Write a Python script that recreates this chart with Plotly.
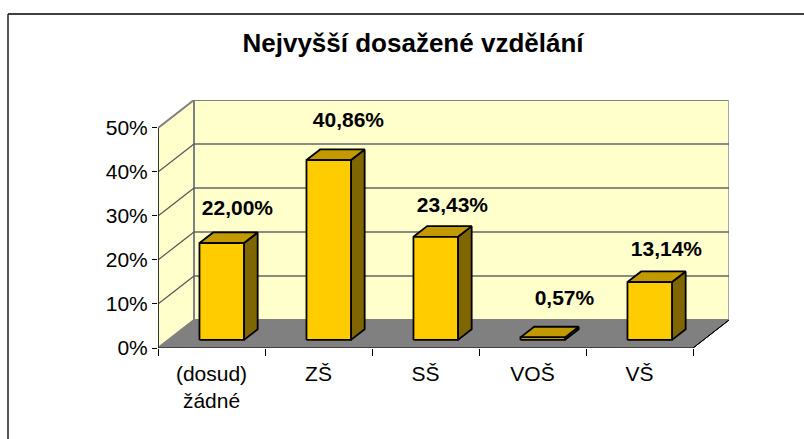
import plotly.graph_objects as go

categories = ["(dosud)<br>žádné", "ZŠ", "SŠ", "VOŠ", "VŠ"]
values = [22.00, 40.86, 23.43, 0.57, 13.14]
labels = ["22,00%", "40,86%", "23,43%", "0,57%", "13,14%"]
y_ticks = [0, 10, 20, 30, 40, 50]
y_labels = ["0%", "10%", "20%", "30%", "40%", "50%"]
title = "Nejvyšší dosažené vzdělání"

W, H = 804, 439
L, R, T, B = 158, 729, 100, 348
DX, DY = 0.3364, 6.35      # depth of the 3-D box in axis units
YMAX = 50
BAR_L, BAR_R = 0.29, 0.706  # bar extent inside its category slot
D0, D1 = 0.29, 0.67         # bar extent along the depth

FRONT, TOP, SIDE = "#FFCC00", "#C29A00", "#806600"
WALL, FLOOR, EDGE = "#FFFFCC", "#808080", "#808080"

# hand placement of the data labels, in pixels (right, up)
label_nudge_x = [0, 4, 1, 6, 1]
label_nudge_y = [11, 16, 8, 15, 9]


def p(x, v, d):
    return x + d * DX, v + d * DY


def poly(pts, fill, line, width=1.0):
    xs = [q[0] for q in pts] + [pts[0][0]]
    ys = [q[1] for q in pts] + [pts[0][1]]
    return go.Scatter(
        x=xs, y=ys, mode="lines", fill="toself" if fill else None,
        fillcolor=fill, line=dict(color=line, width=width),
        hoverinfo="skip", showlegend=False, cliponaxis=False,
    )


n = len(categories)
fig = go.Figure()

# walls and floor
fig.add_trace(poly([p(0, 0, 0), p(0, YMAX, 0), p(0, YMAX, 1), p(0, 0, 1)], WALL, EDGE, 2))
fig.add_trace(poly([p(0, 0, 1), p(0, YMAX, 1), p(n, YMAX, 1), p(n, 0, 1)], WALL, EDGE, 2))
fig.add_trace(poly([p(n, 0, 1), p(n, YMAX, 1)], None, "#A8A8A8", 2))
fig.add_trace(poly([p(0, 0, 0), p(0, 0, 1), p(n, 0, 1), p(n, 0, 0)], FLOOR, FLOOR, 1))

# gridlines
for t in y_ticks[1:-1]:
    a, b, c = p(0, t, 0), p(0, t, 1), p(n, t, 1)
    fig.add_trace(poly([a, b], None, "#555555", 1.2))
    fig.add_trace(poly([b, c], None, "#666666", 1.5))

# axis lines
fig.add_trace(poly([p(0, 0, 0), p(0, YMAX, 0)], None, "#000000", 1.2))
fig.add_trace(poly([p(0, 0, 0), p(n, 0, 0)], None, "#000000", 1.2))
fig.add_trace(poly([p(n, 0, 0), p(n, 0, 1)], None, "#000000", 1.0))

# bars
for i, v in enumerate(values):
    x0, x1 = i + BAR_L, i + BAR_R
    fig.add_trace(poly([p(x1, 0, D0), p(x1, v, D0), p(x1, v, D1), p(x1, 0, D1)], SIDE, "#000000", 1.8))
    fig.add_trace(poly([p(x0, v, D0), p(x0, v, D1), p(x1, v, D1), p(x1, v, D0)], TOP, "#000000", 1.8))
    fig.add_trace(poly([p(x0, 0, D0), p(x0, v, D0), p(x1, v, D0), p(x1, 0, D0)], FRONT, "#000000", 1.8))

# data labels
ux = (R - L) / (n + DX)
uy = (B - T) / (YMAX + DY)
lab = [p(i + 0.5 + label_nudge_x[i] / ux, v + label_nudge_y[i] / uy, 0.72) for i, v in enumerate(values)]
fig.add_trace(go.Scatter(
    x=[q[0] for q in lab], y=[q[1] for q in lab], mode="text", text=labels,
    textposition="top center", cliponaxis=False, hoverinfo="skip", showlegend=False,
    textfont=dict(family="Liberation Sans", size=21, color="#000000", weight="bold"),
))

fig.update_layout(
    width=W, height=H, autosize=False,
    margin=dict(l=L, r=W - R, t=T, b=H - B, pad=0),
    paper_bgcolor="#FFFFFF", plot_bgcolor="rgba(0,0,0,0)",
    font=dict(family="Liberation Sans", size=21, color="#000000"),
    title=dict(text=f"<b>{title}</b>", x=413 / W, xanchor="center", y=1 - 43 / H, yanchor="middle",
               font=dict(family="Liberation Sans", size=26, color="#000000")),
    xaxis=dict(
        range=[0, n + DX], showgrid=False, zeroline=False, showline=False,
        tickmode="array", tickvals=[i + 0.5 for i in range(n)], ticktext=categories,
        ticks="", tickfont=dict(size=21), ticklabelstandoff=11,
        minor=dict(tickmode="array", tickvals=list(range(n + 1)), ticks="outside",
                   ticklen=7, tickwidth=1, tickcolor="#000000", showgrid=False),
    ),
    yaxis=dict(
        range=[0, YMAX + DY], showgrid=False, zeroline=False, showline=False,
        tickmode="array", tickvals=y_ticks, ticktext=y_labels,
        ticks="outside", ticklen=5, tickwidth=1, tickcolor="#000000",
        tickfont=dict(size=21),
    ),
    shapes=[
        dict(type="line", xref="paper", yref="paper",
             x0=(8 - L) / (R - L), x1=(W - L) / (R - L), y0=(B - 14) / (B - T), y1=(B - 14) / (B - T),
             line=dict(color="#000000", width=1.5)),
        dict(type="line", xref="paper", yref="paper",
             x0=(8 - L) / (R - L), x1=(8 - L) / (R - L), y0=(B - 14) / (B - T), y1=(B - H) / (B - T),
             line=dict(color="#222222", width=1.5)),
    ],
)

fig.write_html("out.html", config={"displayModeBar": False},
               post_script="document.body.style.margin='0';window.dispatchEvent(new Event('resize'));")
